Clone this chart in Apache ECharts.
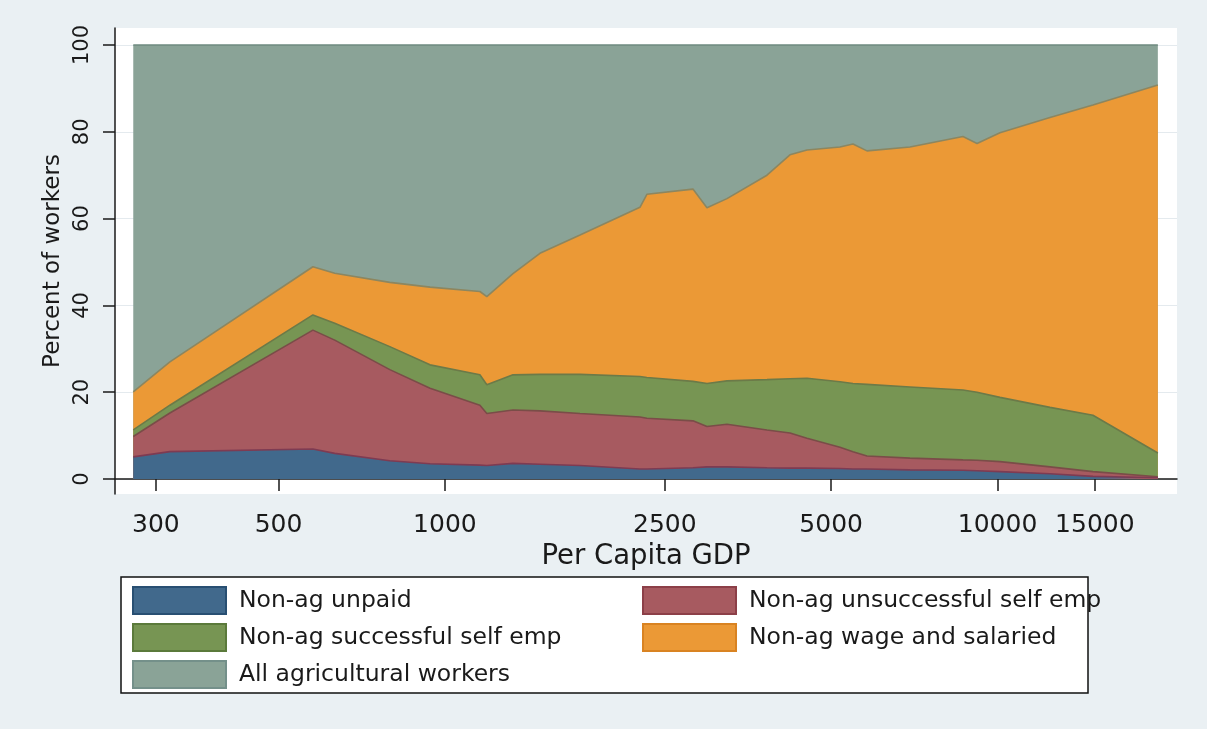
<!DOCTYPE html>
<html>
<head>
<meta charset="utf-8">
<script src="https://cdn.jsdelivr.net/npm/echarts@6/dist/echarts.min.js"></script>
<style>
html,body{margin:0;padding:0;background:#eaf0f3;}
#chart{width:1207px;height:729px;}
</style>
</head>
<body>
<div id="chart"></div>
<script>
// Per capita GDP (x positions of the observations)
const gdp = [273, 318, 577, 632, 795, 940, 1157, 1191, 1328, 1486, 1756, 2254, 2320, 2811, 2980, 3239, 3826, 4211, 4520, 5186, 5475, 5804, 6943, 8658, 9180, 10101, 12441, 14880, 19500];
// Percent of workers in each category (stacked bottom to top)
const unpaid       = [5.1, 6.3, 6.9, 5.9, 4.2, 3.5, 3.2, 3.1, 3.6, 3.4, 3.1, 2.3, 2.3, 2.6, 2.8, 2.8, 2.6, 2.5, 2.5, 2.4, 2.3, 2.3, 2.1, 2.0, 1.9, 1.7, 1.2, 0.6, 0.3];
const unsuccessful = [4.7, 8.9, 27.4, 26.1, 21.0, 17.4, 13.8, 12.0, 12.3, 12.3, 12.0, 12.0, 11.7, 10.8, 9.3, 9.8, 8.7, 8.1, 6.9, 4.9, 4.0, 3.0, 2.7, 2.4, 2.4, 2.3, 1.6, 1.1, 0.2];
const successful   = [1.5, 1.8, 3.5, 3.9, 5.3, 5.4, 7.0, 6.6, 8.1, 8.4, 9.0, 9.3, 9.4, 9.1, 9.9, 10.0, 11.6, 12.5, 13.8, 15.1, 15.7, 16.5, 16.4, 16.1, 15.7, 14.8, 13.7, 13.0, 5.5];
const wage         = [8.8, 10.0, 11.1, 11.5, 14.8, 17.9, 19.2, 20.3, 23.3, 27.9, 32.1, 39.0, 42.2, 44.3, 40.5, 42.0, 47.1, 51.6, 52.6, 54.1, 55.2, 53.8, 55.3, 58.4, 57.3, 61.0, 66.8, 71.5, 84.8];
const agricultural = [79.9, 73.0, 51.1, 52.6, 54.7, 55.8, 56.8, 58.0, 52.7, 48.0, 43.8, 37.4, 34.4, 33.2, 37.5, 35.4, 30.0, 25.3, 24.2, 23.5, 22.8, 24.4, 23.5, 21.1, 22.7, 20.2, 16.7, 13.8, 9.2];

const seriesNames = ['Non-ag unpaid', 'Non-ag unsuccessful self emp', 'Non-ag successful self emp', 'Non-ag wage and salaried', 'All agricultural workers'];
const xTicks = [300, 500, 1000, 2500, 5000, 10000, 15000];
const yTicks = [0, 20, 40, 60, 80, 100];
const xRange = [253, 21120];
const yRange = [-3.46, 103.92];

const fills   = ['#41698c', '#a75a60', '#779553', '#eb9936', '#8aa397'];
const lines   = ['#7e3b52', '#7a4d48', '#6c7a48', '#8c8660', '#6f8a80'];
const borders = ['#284f72', '#8c3f48', '#5b7a3b', '#d98322', '#74908a'];

const layers = [unpaid, unsuccessful, successful, wage, agricultural];
// cumulative tops of each layer
const cum = [];
layers.forEach((arr, k) => {
  cum.push(arr.map((v, i) => (k === 0 ? 0 : cum[k - 1][i]) + v));
});

const lg = v => Math.log10(v);
const FONT = 'DejaVu Sans';

const series = [];
for (let k = layers.length - 1; k >= 0; k--) {
  series.push({
    name: seriesNames[k],
    type: 'line',
    symbol: 'none',
    silent: true,
    data: gdp.map((g, i) => [lg(g), cum[k][i]]),
    lineStyle: { color: lines[k], width: 1.6 },
    itemStyle: { color: fills[k] },
    areaStyle: { color: fills[k], opacity: 1, origin: 0 }
  });
}

const legendItem = k => ({
  name: seriesNames[k],
  itemStyle: { color: fills[k], borderColor: borders[k], borderWidth: 2 }
});
const legendCommon = {
  orient: 'vertical',
  icon: 'rect',
  itemWidth: 93,
  itemHeight: 27,
  itemGap: 8,
  padding: 0,
  selectedMode: false,
  textStyle: { fontFamily: FONT, fontSize: 23.5, color: '#1a1a1a', padding: [0, 0, 0, 8] }
};

const chart = echarts.init(document.getElementById('chart'), null, { renderer: 'canvas' });
chart.setOption({
  animation: false,
  backgroundColor: '#eaf0f3',
  grid: { left: 115, right: 30, top: 28, bottom: 235, show: true, backgroundColor: '#ffffff', borderWidth: 0 },
  xAxis: {
    type: 'value',
    min: lg(xRange[0]),
    max: lg(xRange[1]),
    name: 'Per Capita GDP',
    nameLocation: 'middle',
    nameGap: 40,
    nameTextStyle: { fontFamily: FONT, fontSize: 27.5, color: '#1a1a1a' },
    axisLine: { show: true, lineStyle: { color: '#1a1a1a', width: 1.5 } },
    axisTick: { show: true, length: 12, lineStyle: { color: '#1a1a1a', width: 1.5 }, customValues: xTicks.map(lg) },
    axisLabel: {
      margin: 19,
      fontFamily: FONT, fontSize: 25, color: '#1a1a1a',
      customValues: xTicks.map(lg),
      formatter: v => String(Math.round(Math.pow(10, v)))
    },
    splitLine: { show: false }
  },
  yAxis: {
    type: 'value',
    min: yRange[0],
    max: yRange[1],
    name: 'Percent of workers',
    nameLocation: 'middle',
    nameGap: 48,
    nameTextStyle: { fontFamily: FONT, fontSize: 23, color: '#1a1a1a' },
    axisLine: { show: true, lineStyle: { color: '#1a1a1a', width: 1.5 } },
    axisTick: { show: true, length: 12, lineStyle: { color: '#1a1a1a', width: 1.5 }, customValues: yTicks },
    axisLabel: {
      rotate: 90,
      margin: 22,
      fontFamily: FONT, fontSize: 21, color: '#1a1a1a',
      customValues: yTicks
    },
    splitLine: { show: true, lineStyle: { color: '#e4eaee', width: 1 } }
  },
  graphic: [{
    type: 'rect',
    z: 0,
    shape: { x: 121, y: 577, width: 967, height: 116 },
    style: { fill: '#ffffff', stroke: '#111111', lineWidth: 1.5 }
  }],
  legend: [
    Object.assign({}, legendCommon, { left: 132, top: 586, data: [0, 2, 4].map(legendItem) }),
    Object.assign({}, legendCommon, { left: 642, top: 586, data: [1, 3].map(legendItem) })
  ],
  series: series
});
</script>
</body>
</html>
